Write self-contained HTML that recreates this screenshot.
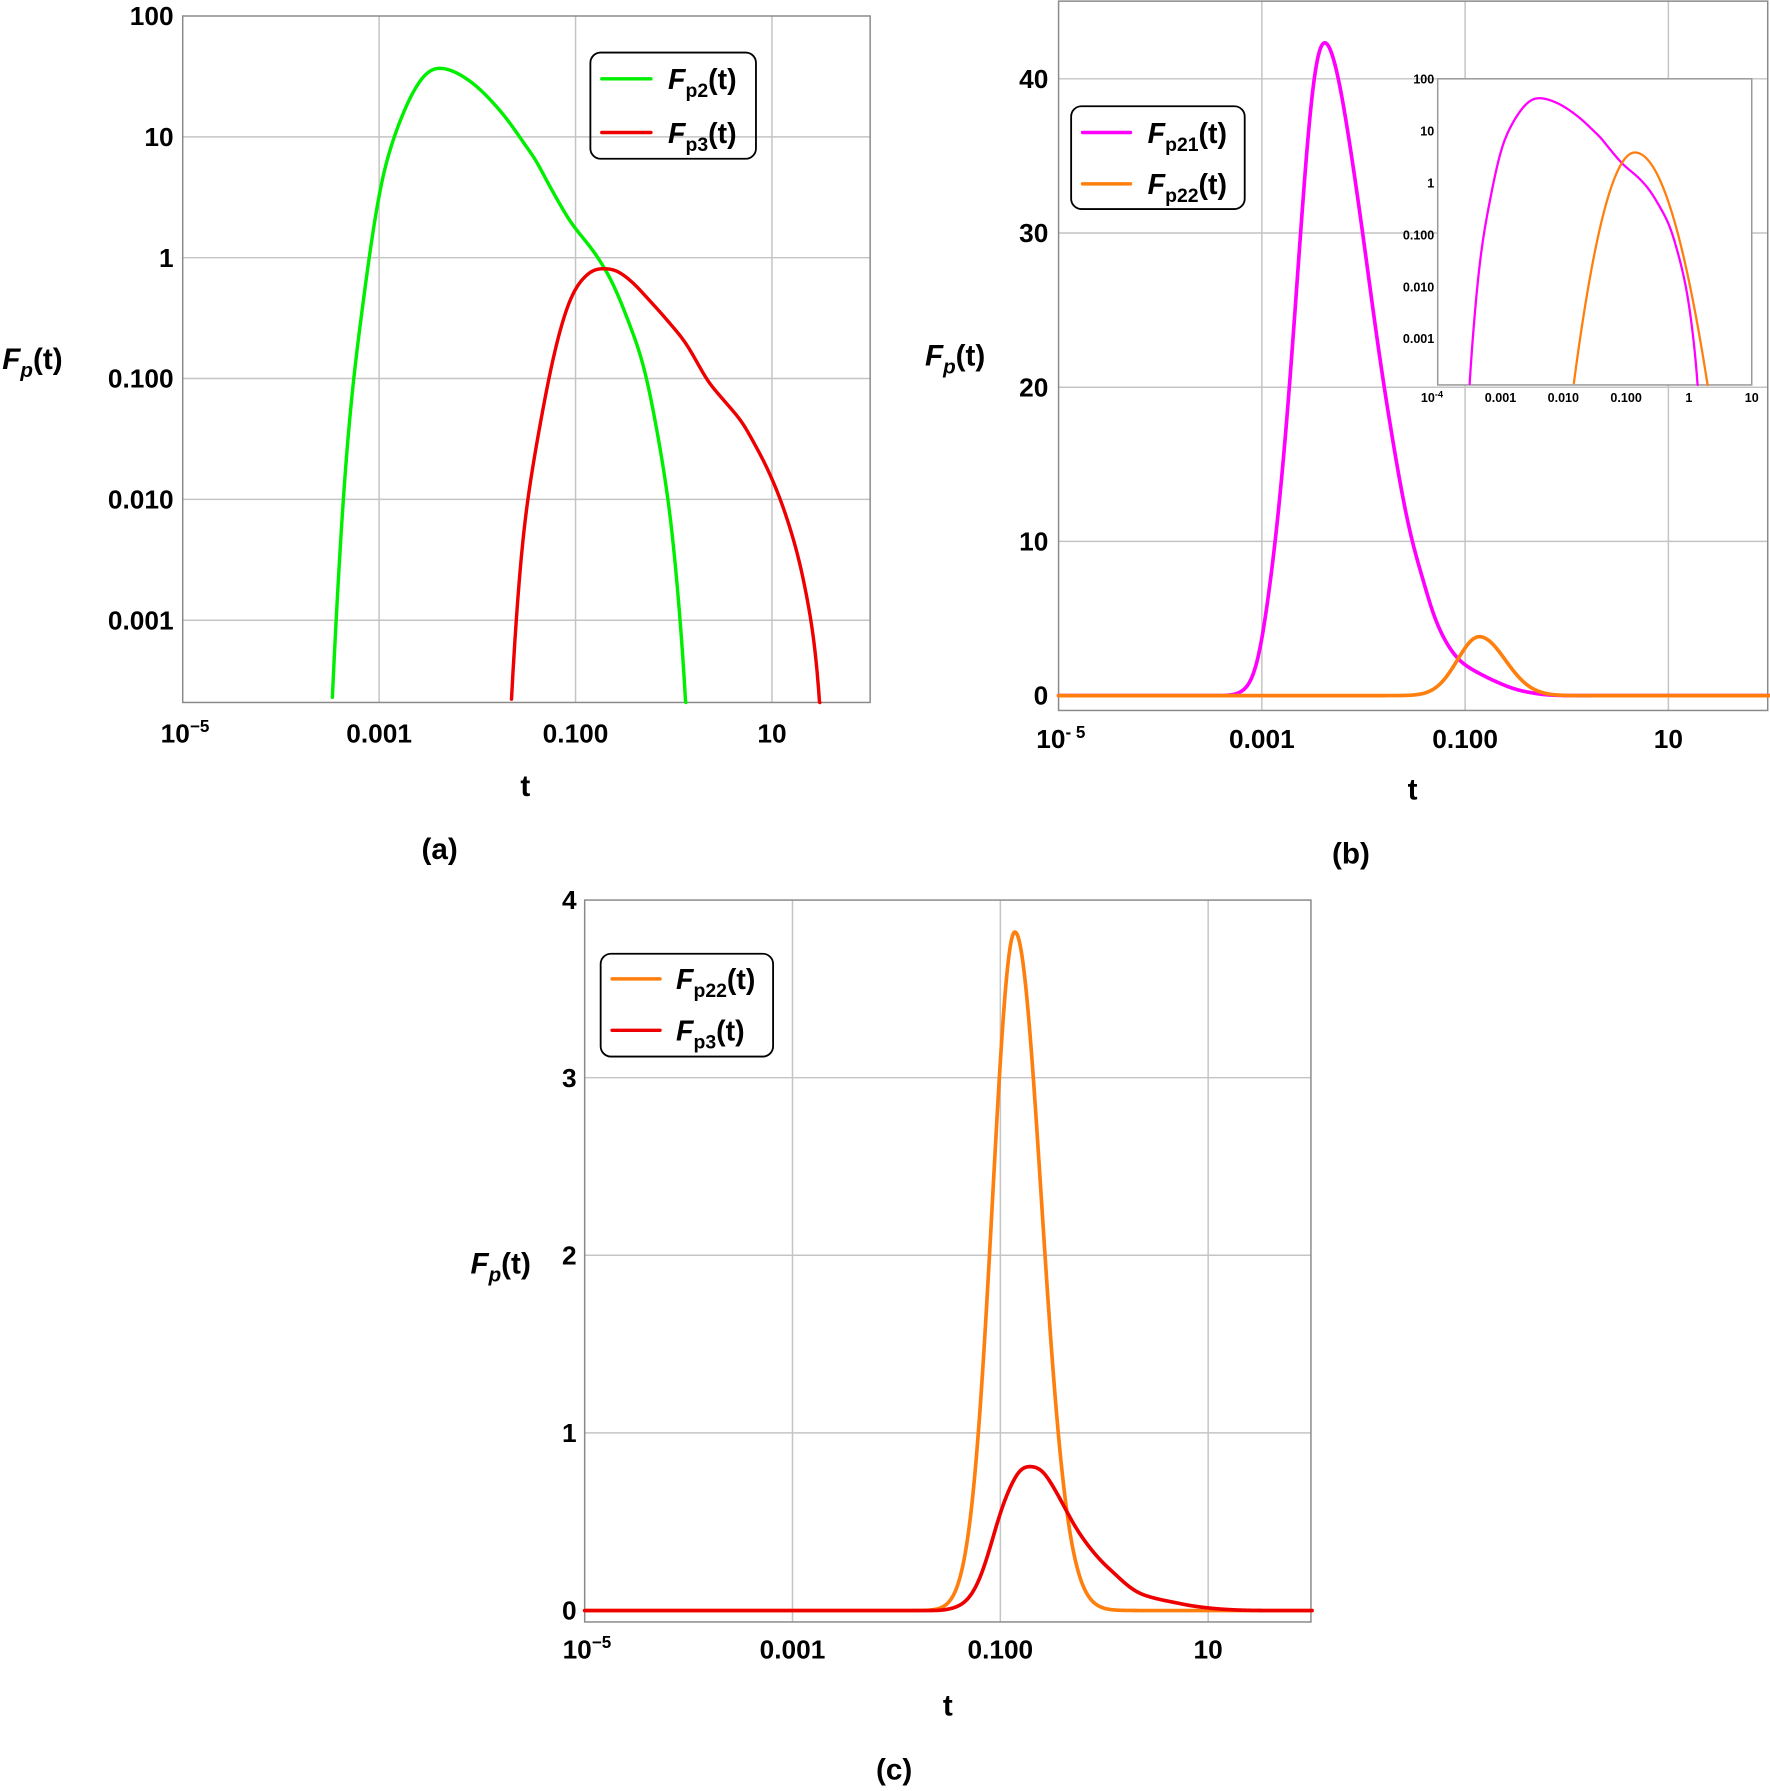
<!DOCTYPE html>
<html><head><meta charset="utf-8"><style>
html,body{margin:0;padding:0;background:#fff}
svg{display:block}
text{font-family:"Liberation Sans",Arial,sans-serif;font-weight:bold;fill:#000}
</style></head><body>
<svg id="s" width="1770" height="1791" viewBox="0 0 1550 1568" preserveAspectRatio="none" xmlns="http://www.w3.org/2000/svg">
<rect width="1550" height="1568" fill="#fff"/>
<g id="grid" stroke="#c4c4c4" stroke-width="1.3" fill="none"></g>
<g id="frames" stroke="#8a8a8a" stroke-width="1.3" fill="none"></g>
<g id="curves" fill="none" stroke-linejoin="round" stroke-linecap="round"></g>
<g id="labels"></g>
</svg>
<script>
var NS="http://www.w3.org/2000/svg";
function el(p,tag,attrs,txt){var e=document.createElementNS(NS,tag);for(var k in attrs)e.setAttribute(k,attrs[k]);if(txt!==undefined)e.textContent=txt;document.getElementById(p).appendChild(e);return e;}
function line(p,x1,y1,x2,y2,extra){var a={x1:x1,y1:y1,x2:x2,y2:y2};for(var k in extra)a[k]=extra[k];el(p,'line',a);}
function txt(x,y,s,size,anchor){return el('labels','text',{x:x,y:y,'font-size':size,'text-anchor':anchor||'middle'},s);}
var G=[[-3.49,-3.64],[-3.37,-1.98],[-3.26,-0.94],[-3.02,0.43],[-2.85,1.0],[-2.62,1.42],[-2.42,1.57],[-2.09,1.47],[-1.74,1.19],[-1.40,0.81],[-1.22,0.53],[-1.05,0.29],[-0.81,0.05],[-0.64,-0.18],[-0.47,-0.51],[-0.29,-0.94],[-0.12,-1.65],[0.0,-2.36],[0.14,-3.64]];
var R=[[-1.67,-3.64],[-1.55,-2.36],[-1.40,-1.55],[-1.22,-0.80],[-1.05,-0.33],[-0.87,-0.13],[-0.73,-0.09],[-0.52,-0.14],[-0.17,-0.42],[0.12,-0.70],[0.35,-1.03],[0.70,-1.36],[0.93,-1.70],[1.10,-2.03],[1.28,-2.50],[1.42,-3.07],[1.51,-3.64]];
function interp(D,u){var n=D.length;if(u<=D[0][0])return D[0][1]-25*(D[0][0]-u);if(u>=D[n-1][0])return D[n-1][1]-25*(u-D[n-1][0]);
for(var i=0;i<n-1;i++){if(u<=D[i+1][0]){var a=D[i],b=D[i+1];var t=(u-a[0])/(b[0]-a[0]);
var p0=D[Math.max(i-1,0)][1],p1=a[1],p2=b[1],p3=D[Math.min(i+2,n-1)][1];
var t2=t*t,t3=t2*t;return 0.5*((2*p1)+(-p0+p2)*t+(2*p0-5*p1+4*p2-p3)*t2+(-p0+3*p1-3*p2+p3)*t3);}}}
function sm(D,u){var s=0,ws=0;for(var k=-8;k<=8;k++){var w=Math.exp(-k*k/18);s+=w*interp(D,u+k*0.017);ws+=w;}return s/ws;}
function lfG(u){return sm(G,u);}
function lfM(u){return sm(G,u)+0.06;}
function lfR(u){return sm(R,u);}
function lfO(u){var s=u<-0.86?0.215:0.255;var d=(u+0.86)/s;return Math.log10(3.82)-d*d/2/Math.LN10;}
function path(fx,fy,lf,u0,u1,ymin,ymax,col,w){var d='',first=true;
for(var u=u0;u<=u1+1e-9;u+=0.004){var y=fy(lf(u));var x=fx(u);if(y>ymax){if(!first){d+='L'+x.toFixed(2)+','+ymax;}first=true;continue;}
if(first){d+='M'+x.toFixed(2)+','+y.toFixed(2);first=false;}else d+='L'+x.toFixed(2)+','+y.toFixed(2);}
el('curves','path',{d:d,stroke:col,'stroke-width':w});}
function pathLin(fx,fy,lf,u0,u1,col,w){var d='';for(var u=u0;u<=u1+1e-9;u+=0.004){var v=Math.pow(10,lf(u));d+=(d?'L':'M')+fx(u).toFixed(2)+','+fy(v).toFixed(2);}el('curves','path',{d:d,stroke:col,'stroke-width':w});}
function fp(x,y,sub,size,anchor){var t=txt(x,y,'',size,anchor||'start');t.innerHTML='<tspan font-style="italic">F</tspan><tspan font-size="'+Math.round(size*0.68)+'" dy="7"'+(sub==='p'?' font-style="italic"':'')+'>'+sub+'</tspan><tspan dy="-7">(t)</tspan>';}
function pow10(x,y,exp,size,esize,edy){var t=txt(x,y,'',size);t.innerHTML='10<tspan dy="'+edy+'" font-size="'+esize+'">'+exp+'</tspan>';}

(function(){var L=160,Rr=762,T=14,B=615;var fx=function(u){return L+(u+5)*86;};var fy=function(lf){return T+(2-lf)*105.8;};
[-3,-1,1].forEach(function(u){line('grid',fx(u),T,fx(u),B);});
[1,0,-1,-2,-3].forEach(function(l){line('grid',L,fy(l),Rr,fy(l));});
el('frames','rect',{x:L,y:T,width:Rr-L,height:B-T});
path(fx,fy,lfG,-4,0.5,T,B,'#00ee00',3);
path(fx,fy,lfR,-2,2,T,B,'#ee0000',3);
[['100',2],['10',1],['1',0],['0.100',-1],['0.010',-2],['0.001',-3]].forEach(function(p){txt(152,fy(p[1])+8,p[0],23,'end');});
[['0.001',-3],['0.100',-1],['10',1]].forEach(function(p){txt(fx(p[1]),650,p[0],23);});
pow10(162,650,'−5',23,15,-9);
txt(460,697,'t',26);txt(385,752,'(a)',26);
fp(2,323,'p',26);
el('frames','rect',{x:517,y:46,width:145,height:93,rx:9,stroke:'#000','stroke-width':1.6});
line('curves',527,69,570,69,{stroke:'#00ee00','stroke-width':3});line('curves',527,116,570,116,{stroke:'#ee0000','stroke-width':3});
fp(585,78,'p2',25);fp(585,125,'p3',25);
})();

(function(){var L=927,Rr=1548,T=1,B=622;var fx=function(u){return L+(u+5)*89;};var fy=function(v){return 609-v*13.5;};
[-3,-1,1].forEach(function(u){line('grid',fx(u),T,fx(u),B);});
[10,20,30,40].forEach(function(v){line('grid',L,fy(v),Rr,fy(v));});
el('frames','rect',{x:L,y:T,width:Rr-L,height:B-T});
pathLin(fx,fy,lfM,-5,2,'#ff00ff',3.2);
pathLin(fx,fy,lfO,-5,2,'#ff7f0e',3.2);
[['0',0],['10',10],['20',20],['30',30],['40',40]].forEach(function(p){txt(918,fy(p[1])+8,p[0],23,'end');});
[['0.001',-3],['0.100',-1],['10',1]].forEach(function(p){txt(fx(p[1]),655,p[0],23);});
pow10(929,655,'- 5',23,15,-9);
txt(1237,700,'t',26);txt(1183,756,'(b)',26);
fp(810,320,'p',26);
el('frames','rect',{x:938,y:93,width:152,height:90,rx:9,stroke:'#000','stroke-width':1.6,fill:'#fff'});
line('curves',948,116,990,116,{stroke:'#ff00ff','stroke-width':3});line('curves',948,161,990,161,{stroke:'#ff7f0e','stroke-width':3});
fp(1005,125,'p21',25);fp(1005,170,'p22',25);
var iL=1259,iR=1534,iT=69,iB=337;var gx=function(u){return iL+(u+4)*55;};var gy=function(lf){return iT+(2-lf)*45.5;};
el('frames','rect',{x:iL,y:iT,width:iR-iL,height:iB-iT,fill:'#fff',stroke:'#999'});
line('grid',1282,iT,1282,iB);line('grid',1461,iT,1461,iB);line('grid',iL,339,iR,339);line('grid',iL,204,iR,204);
path(gx,gy,lfM,-4,1,iT,iB,'#ff00ff',2);
path(gx,gy,lfO,-4,1,iT,iB,'#ff7f0e',2);
[['100',2],['10',1],['1',0],['0.100',-1],['0.010',-2],['0.001',-3]].forEach(function(p){txt(1256,gy(p[1])+4,p[0],11,'end');});
[['0.001',-3],['0.010',-2],['0.100',-1],['1',0],['10',1]].forEach(function(p){txt(gx(p[1]),352,p[0],11);});
pow10(1254,352,'-4',11,8,-4);
})();

(function(){var L=512,Rr=1148,T=788,B=1420;var fx=function(u){return L+(u+5)*91;};var fy=function(v){return 1410-v*155.5;};
[-3,-1,1].forEach(function(u){line('grid',fx(u),T,fx(u),B);});
[1,2,3].forEach(function(v){line('grid',L,fy(v),Rr,fy(v));});
el('frames','rect',{x:L,y:T,width:Rr-L,height:B-T});
pathLin(fx,fy,lfO,-5,2,'#ff7f0e',3.2);
pathLin(fx,fy,lfR,-5,2,'#ee0000',3.2);
[['0',0],['1',1],['2',2],['3',3],['4',4]].forEach(function(p){txt(505,fy(p[1])+8,p[0],23,'end');});
[['0.001',-3],['0.100',-1],['10',1]].forEach(function(p){txt(fx(p[1]),1452,p[0],23);});
pow10(514,1452,'−5',23,15,-9);
txt(830,1502,'t',26);txt(783,1558,'(c)',26);
fp(412,1115,'p',26);
el('frames','rect',{x:526,y:835,width:151,height:90,rx:9,stroke:'#000','stroke-width':1.6,fill:'#fff'});
line('curves',536,857,578,857,{stroke:'#ff7f0e','stroke-width':3});line('curves',536,902,578,902,{stroke:'#ee0000','stroke-width':3});
fp(592,866,'p22',25);fp(592,911,'p3',25);
})();
</script>
</body></html>
